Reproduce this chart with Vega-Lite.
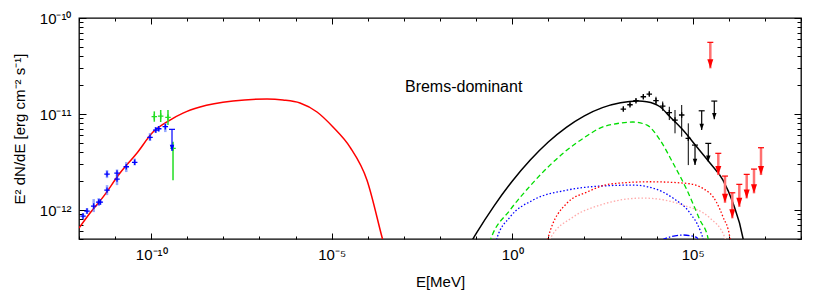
{
  "$schema": "https://vega.github.io/schema/vega-lite/v6.json",
  "width": 722,
  "height": 221,
  "autosize": {"type": "none"},
  "padding": {"left": 79, "top": 18, "right": 29, "bottom": 52},
  "background": "white",
  "config": {
    "view": {"stroke": "black", "strokeWidth": 1.3},
    "axis": {"labelFont": "Liberation Sans", "titleFont": "Liberation Sans", "labelColor": "black", "titleColor": "black", "titleFontWeight": "normal", "grid": false, "domain": false, "tickColor": "black", "tickWidth": 1, "labelFlush": false, "labelOverlap": false}
  },
  "resolve": {"axis": {"x": "independent", "y": "independent"}},
  "datasets": {
    "curves": [
      {"c": "synch", "E": 1e-12, "F": 6.49e-13},
      {"c": "synch", "E": 2.02e-12, "F": 9.31e-13},
      {"c": "synch", "E": 4.62e-12, "F": 1.365e-12},
      {"c": "synch", "E": 1.368e-11, "F": 2.43e-12},
      {"c": "synch", "E": 4.05e-11, "F": 3.93e-12},
      {"c": "synch", "E": 1.122e-10, "F": 6.49e-12},
      {"c": "synch", "E": 3.32e-10, "F": 8.66e-12},
      {"c": "synch", "E": 7.6e-10, "F": 1.023e-11},
      {"c": "synch", "E": 2.25e-9, "F": 1.183e-11},
      {"c": "synch", "E": 1.845e-8, "F": 1.365e-11},
      {"c": "synch", "E": 1.614e-7, "F": 1.432e-11},
      {"c": "synch", "E": 4.48e-7, "F": 1.40e-11},
      {"c": "synch", "E": 1.324e-6, "F": 1.303e-11},
      {"c": "synch", "E": 3.92e-6, "F": 1.05e-11},
      {"c": "synch", "E": 1.086e-5, "F": 7.33e-12},
      {"c": "synch", "E": 3.21e-5, "F": 4.53e-12},
      {"c": "synch", "E": 9.51e-5, "F": 2.05e-12},
      {"c": "synch", "E": 2.47e-4, "F": 5.24e-13},
      {"c": "synch", "E": 3.63e-4, "F": 3.02e-13},
      {"c": "total", "E": 0.0501, "F": 3.66e-13},
      {"c": "total", "E": 0.1, "F": 5.68e-13},
      {"c": "total", "E": 0.316, "F": 1.107e-12},
      {"c": "total", "E": 1, "F": 1.995e-12},
      {"c": "total", "E": 3.162, "F": 3.32e-12},
      {"c": "total", "E": 10, "F": 5.12e-12},
      {"c": "total", "E": 31.62, "F": 7.28e-12},
      {"c": "total", "E": 100, "F": 9.59e-12},
      {"c": "total", "E": 316.2, "F": 1.167e-11},
      {"c": "total", "E": 1000, "F": 1.312e-11},
      {"c": "total", "E": 3162, "F": 1.365e-11},
      {"c": "total", "E": 5321, "F": 1.343e-11},
      {"c": "total", "E": 12420, "F": 1.191e-11},
      {"c": "total", "E": 23500, "F": 9.38e-12},
      {"c": "total", "E": 53830, "F": 6.81e-12},
      {"c": "total", "E": 129100, "F": 4.56e-12},
      {"c": "total", "E": 301000, "F": 3.09e-12},
      {"c": "total", "E": 690000, "F": 2.05e-12},
      {"c": "total", "E": 1306000, "F": 1.183e-12},
      {"c": "total", "E": 2470000, "F": 5.11e-13},
      {"c": "total", "E": 2810000, "F": 3.83e-13},
      {"c": "brems", "E": 0.2005, "F": 3.83e-13},
      {"c": "brems", "E": 0.2535, "F": 4.99e-13},
      {"c": "brems", "E": 0.869, "F": 1e-12},
      {"c": "brems", "E": 3.11, "F": 1.778e-12},
      {"c": "brems", "E": 11.14, "F": 2.94e-12},
      {"c": "brems", "E": 33.0, "F": 4.22e-12},
      {"c": "brems", "E": 104, "F": 5.75e-12},
      {"c": "brems", "E": 270, "F": 7.14e-12},
      {"c": "brems", "E": 968, "F": 8.05e-12},
      {"c": "brems", "E": 2218, "F": 8.26e-12},
      {"c": "brems", "E": 5420, "F": 7.67e-12},
      {"c": "brems", "E": 12420, "F": 5.36e-12},
      {"c": "brems", "E": 28440, "F": 3.09e-12},
      {"c": "brems", "E": 69500, "F": 1.614e-12},
      {"c": "brems", "E": 159200, "F": 7.87e-13},
      {"c": "brems", "E": 265500, "F": 5.11e-13},
      {"c": "brems", "E": 301000, "F": 3.83e-13},
      {"c": "ic", "E": 0.313, "F": 3.83e-13},
      {"c": "ic", "E": 0.372, "F": 4.99e-13},
      {"c": "ic", "E": 0.869, "F": 8.45e-13},
      {"c": "ic", "E": 3.77, "F": 1.27e-12},
      {"c": "ic", "E": 33.0, "F": 1.614e-12},
      {"c": "ic", "E": 270, "F": 1.778e-12},
      {"c": "ic", "E": 2218, "F": 1.82e-12},
      {"c": "ic", "E": 7943, "F": 1.694e-12},
      {"c": "ic", "E": 28440, "F": 1.334e-12},
      {"c": "ic", "E": 84140, "F": 9.31e-13},
      {"c": "ic", "E": 159200, "F": 6.19e-13},
      {"c": "ic", "E": 192800, "F": 4.99e-13},
      {"c": "ic", "E": 219000, "F": 3.83e-13},
      {"c": "pi0", "E": 8.63, "F": 3.83e-13},
      {"c": "pi0", "E": 9.82, "F": 5.11e-13},
      {"c": "pi0", "E": 33.0, "F": 1.183e-12},
      {"c": "pi0", "E": 118, "F": 1.54e-12},
      {"c": "pi0", "E": 512, "F": 1.866e-12},
      {"c": "pi0", "E": 6561, "F": 1.972e-12},
      {"c": "pi0", "E": 68230, "F": 1.897e-12},
      {"c": "pi0", "E": 301000, "F": 1.493e-12},
      {"c": "pi0", "E": 690000, "F": 8.51e-13},
      {"c": "pi0", "E": 1079000, "F": 5.11e-13},
      {"c": "pi0", "E": 1151000, "F": 3.83e-13},
      {"c": "pi0b", "E": 9.82, "F": 3.83e-13},
      {"c": "pi0b", "E": 11.14, "F": 4.99e-13},
      {"c": "pi0b", "E": 48.3, "F": 8.45e-13},
      {"c": "pi0b", "E": 270, "F": 1.127e-12},
      {"c": "pi0b", "E": 4198, "F": 1.334e-12},
      {"c": "pi0b", "E": 53830, "F": 1.127e-12},
      {"c": "pi0b", "E": 301000, "F": 8.26e-13},
      {"c": "pi0b", "E": 785000, "F": 5.11e-13},
      {"c": "pi0b", "E": 891000, "F": 3.83e-13},
      {"c": "dd", "E": 9036, "F": 3.83e-13},
      {"c": "dd", "E": 15350, "F": 4.95e-13},
      {"c": "dd", "E": 54950, "F": 5.5e-13},
      {"c": "dd", "E": 129100, "F": 5.2e-13},
      {"c": "dd", "E": 159200, "F": 3.83e-13}
    ],
    "pts": [
      {"g": "blue", "E": 1.291e-12, "F": 8.66e-13, "lo": 8.05e-13, "hi": 9.31e-13},
      {"g": "blue", "E": 1.667e-12, "F": 9.77e-13, "lo": 9.12e-13, "hi": 1.047e-12},
      {"g": "blue", "E": 2.553e-12, "F": 1.102e-12, "lo": 9.53e-13, "hi": 1.303e-12},
      {"g": "blue", "E": 3.516e-12, "F": 1.211e-12, "lo": 1.102e-12, "hi": 1.334e-12},
      {"g": "blue", "E": 3.89e-12, "F": 1.211e-12, "lo": 1.13e-12, "hi": 1.30e-12},
      {"g": "blue", "E": 5.97e-12, "F": 1.614e-12, "lo": 1.432e-12, "hi": 1.82e-12},
      {"g": "blue", "E": 5.97e-12, "F": 2.371e-12, "lo": 2.153e-12, "hi": 2.61e-12},
      {"g": "blue", "E": 1.13e-11, "F": 2.104e-12, "lo": 1.82e-12, "hi": 2.317e-12},
      {"g": "blue", "E": 1.13e-11, "F": 2.427e-12, "lo": 2.25e-12, "hi": 2.65e-12},
      {"g": "blue", "E": 2.04e-11, "F": 2.825e-12, "lo": 2.489e-12, "hi": 3.162e-12},
      {"g": "blue", "E": 3.49e-11, "F": 3.14e-12, "lo": 2.92e-12, "hi": 3.44e-12},
      {"g": "blue", "E": 9.27e-11, "F": 5.71e-12, "lo": 5.24e-12, "hi": 6.34e-12},
      {"g": "blue", "E": 1.334e-10, "F": 6.81e-12, "lo": 6.34e-12, "hi": 7.33e-12},
      {"g": "blue", "E": 1.614e-10, "F": 7.03e-12, "lo": 6.6e-12, "hi": 7.5e-12},
      {"g": "blue", "E": 2.46e-10, "F": 7.38e-12, "lo": 6.49e-12, "hi": 8.05e-12},
      {"g": "green", "E": 1.219e-10, "F": 9.38e-12, "lo": 8.32e-12, "hi": 1.066e-11},
      {"g": "green", "E": 1.832e-10, "F": 9.53e-12, "lo": 8.26e-12, "hi": 1.102e-11},
      {"g": "green", "E": 2.917e-10, "F": 9.25e-12, "lo": 7.67e-12, "hi": 1.102e-11},
      {"g": "green", "E": 4.02e-10, "F": 4.40e-12, "lo": 2.05e-12, "hi": 5.14e-12},
      {"g": "black", "E": 1197, "F": 1.127e-11, "lo": 1.08e-11, "hi": 1.18e-11},
      {"g": "black", "E": 1832, "F": 1.25e-11, "lo": 1.2e-11, "hi": 1.31e-11},
      {"g": "black", "E": 2685, "F": 1.377e-11, "lo": 1.32e-11, "hi": 1.44e-11},
      {"g": "black", "E": 4285, "F": 1.514e-11, "lo": 1.45e-11, "hi": 1.59e-11},
      {"g": "black", "E": 6281, "F": 1.614e-11, "lo": 1.54e-11, "hi": 1.70e-11},
      {"g": "black", "E": 9616, "F": 1.377e-11, "lo": 1.242e-11, "hi": 1.514e-11},
      {"g": "black", "E": 14760, "F": 1.211e-11, "lo": 1.08e-11, "hi": 1.35e-11},
      {"g": "black", "E": 22490, "F": 1.033e-11, "lo": 8.66e-12, "hi": 1.191e-11},
      {"g": "black", "E": 32360, "F": 8.66e-12, "lo": 6.30e-12, "hi": 1.102e-11},
      {"g": "black", "E": 49550, "F": 9.77e-12, "lo": 5.81e-12, "hi": 1.242e-11},
      {"g": "black", "E": 75510, "F": 5.58e-12, "lo": 2.94e-12, "hi": 8.0e-12}
    ],
    "uls": [
      {"g": "blue", "E": 3.77e-10, "top": 6.93e-12, "bot": 4.12e-12},
      {"g": "black", "E": 115900, "top": 4.75e-12, "bot": 2.94e-12},
      {"g": "black", "E": 177400, "top": 1.081e-11, "bot": 6.81e-12},
      {"g": "black", "E": 270400, "top": 4.95e-12, "bot": 3.18e-12},
      {"g": "black", "E": 396300, "top": 1.365e-11, "bot": 8.81e-12},
      {"g": "red", "E": 307600, "top": 5.58e-11, "bot": 2.99e-11},
      {"g": "red", "E": 512000, "top": 3.90e-12, "bot": 2.317e-12},
      {"g": "red", "E": 785000, "top": 2.26e-12, "bot": 1.191e-12},
      {"g": "red", "E": 1250000, "top": 1.514e-12, "bot": 8.20e-13},
      {"g": "red", "E": 1954000, "top": 1.854e-12, "bot": 1.081e-12},
      {"g": "red", "E": 3133000, "top": 2.355e-12, "bot": 1.324e-12},
      {"g": "red", "E": 4990000, "top": 2.673e-12, "bot": 1.493e-12},
      {"g": "red", "E": 7800000, "top": 4.46e-12, "bot": 2.317e-12}
    ],
    "notes": [
      {"label": "Brems-dominant", "E": 0.00107, "F": 1.91e-11}
    ]
  },
  "layer": [
    {
      "data": {"name": "curves"},
      "transform": [{"filter": "datum.c === 'synch'"}],
      "mark": {"type": "line", "color": "#ff0000", "strokeWidth": 1.5, "clip": true, "interpolate": "monotone"},
      "encoding": {
        "x": {"field": "E", "type": "quantitative", "scale": {"type": "log", "domain": [1e-12, 1e8], "nice": false},
          "axis": {"orient": "bottom", "values": [1e-10, 1e-5, 1, 100000], "ticks": false, "labelFontSize": 15, "labelPadding": 8,
            "labelExpr": "datum.value < 1e-7 ? '10⁻¹⁰' : datum.value < 1e-2 ? '10⁻⁵' : datum.value < 10 ? '10⁰' : '10⁵'",
            "title": "E[MeV]", "titleFontSize": 15, "titlePadding": 12}},
        "y": {"field": "F", "type": "quantitative", "scale": {"type": "log", "domain": [5e-13, 1e-10], "nice": false},
          "axis": {"orient": "left", "values": [1e-12, 1e-11, 1e-10], "ticks": false, "labelFontSize": 15, "labelPadding": 8,
            "labelExpr": "datum.value < 5e-12 ? '10⁻¹²' : datum.value < 5e-11 ? '10⁻¹¹' : '10⁻¹⁰'",
            "title": "E² dN/dE [erg cm⁻² s⁻¹]", "titleFontSize": 15, "titlePadding": 12}}
      }
    },
    {
      "data": {"name": "curves"},
      "transform": [{"filter": "datum.c === 'total'"}],
      "mark": {"type": "line", "color": "#000000", "strokeWidth": 1.5, "clip": true, "interpolate": "monotone"},
      "encoding": {
        "x": {"field": "E", "type": "quantitative", "scale": {"type": "log", "domain": [1e-12, 1e8], "nice": false},
          "axis": {"orient": "bottom", "values": [1e-10, 1e-5, 1, 100000], "labels": false, "tickSize": -6, "title": null}},
        "y": {"field": "F", "type": "quantitative", "scale": {"type": "log", "domain": [5e-13, 1e-10], "nice": false},
          "axis": {"orient": "left", "values": [1e-12, 1e-11, 1e-10], "labels": false, "tickSize": -7, "title": null}}
      }
    },
    {
      "data": {"name": "curves"},
      "transform": [{"filter": "datum.c === 'brems'"}],
      "mark": {"type": "line", "color": "#00dd00", "strokeWidth": 1.3, "strokeDash": [5, 3], "clip": true, "interpolate": "monotone"},
      "encoding": {
        "x": {"field": "E", "type": "quantitative", "scale": {"type": "log", "domain": [1e-12, 1e8], "nice": false},
          "axis": {"orient": "bottom", "values": [1e-12, 1e-11, 1e-10, 1e-9, 1e-8, 1e-7, 1e-6, 1e-5, 1e-4, 1e-3, 1e-2, 1e-1, 1, 10, 100, 1000, 10000, 100000, 1000000, 10000000, 100000000], "labels": false, "tickSize": -3, "title": null}},
        "y": {"field": "F", "type": "quantitative", "scale": {"type": "log", "domain": [5e-13, 1e-10], "nice": false},
          "axis": {"orient": "left", "values": [5e-13, 6e-13, 7e-13, 8e-13, 9e-13, 2e-12, 3e-12, 4e-12, 5e-12, 6e-12, 7e-12, 8e-12, 9e-12, 2e-11, 3e-11, 4e-11, 5e-11, 6e-11, 7e-11, 8e-11, 9e-11], "labels": false, "tickSize": -4, "title": null}}
      }
    },
    {
      "data": {"name": "curves"},
      "transform": [{"filter": "datum.c === 'ic'"}],
      "mark": {"type": "line", "color": "#0000ff", "strokeWidth": 1.3, "strokeDash": [1.5, 2], "clip": true, "interpolate": "monotone"},
      "encoding": {
        "x": {"field": "E", "type": "quantitative", "scale": {"type": "log", "domain": [1e-12, 1e8], "nice": false},
          "axis": {"orient": "top", "values": [1e-10, 1e-5, 1, 100000], "labels": false, "tickSize": -6, "title": null}},
        "y": {"field": "F", "type": "quantitative", "scale": {"type": "log", "domain": [5e-13, 1e-10], "nice": false},
          "axis": {"orient": "right", "values": [1e-12, 1e-11, 1e-10], "labels": false, "tickSize": -7, "title": null}}
      }
    },
    {
      "data": {"name": "curves"},
      "transform": [{"filter": "datum.c === 'pi0'"}],
      "mark": {"type": "line", "color": "#ff0000", "strokeWidth": 1.3, "strokeDash": [1.5, 2], "clip": true, "interpolate": "monotone"},
      "encoding": {
        "x": {"field": "E", "type": "quantitative", "scale": {"type": "log", "domain": [1e-12, 1e8], "nice": false},
          "axis": {"orient": "top", "values": [1e-12, 1e-11, 1e-10, 1e-9, 1e-8, 1e-7, 1e-6, 1e-5, 1e-4, 1e-3, 1e-2, 1e-1, 1, 10, 100, 1000, 10000, 100000, 1000000, 10000000, 100000000], "labels": false, "tickSize": -3, "title": null}},
        "y": {"field": "F", "type": "quantitative", "scale": {"type": "log", "domain": [5e-13, 1e-10], "nice": false},
          "axis": {"orient": "right", "values": [5e-13, 6e-13, 7e-13, 8e-13, 9e-13, 2e-12, 3e-12, 4e-12, 5e-12, 6e-12, 7e-12, 8e-12, 9e-12, 2e-11, 3e-11, 4e-11, 5e-11, 6e-11, 7e-11, 8e-11, 9e-11], "labels": false, "tickSize": -4, "title": null}}
      }
    },
    {
      "data": {"name": "curves"},
      "transform": [{"filter": "datum.c === 'pi0b'"}],
      "mark": {"type": "line", "color": "#ffaaaa", "strokeWidth": 1.3, "strokeDash": [1.5, 2], "clip": true, "interpolate": "monotone"},
      "encoding": {
        "x": {"field": "E", "type": "quantitative", "scale": {"type": "log", "domain": [1e-12, 1e8], "nice": false}, "axis": null},
        "y": {"field": "F", "type": "quantitative", "scale": {"type": "log", "domain": [5e-13, 1e-10], "nice": false}, "axis": null}
      }
    },
    {
      "data": {"name": "curves"},
      "transform": [{"filter": "datum.c === 'dd'"}],
      "mark": {"type": "line", "color": "#0000ff", "strokeWidth": 1.3, "strokeDash": [6, 2, 1.5, 2], "clip": true, "interpolate": "monotone"},
      "encoding": {
        "x": {"field": "E", "type": "quantitative", "scale": {"type": "log", "domain": [1e-12, 1e8], "nice": false}, "axis": null},
        "y": {"field": "F", "type": "quantitative", "scale": {"type": "log", "domain": [5e-13, 1e-10], "nice": false}, "axis": null}
      }
    },
    {
      "data": {"name": "pts"},
      "transform": [{"filter": "datum.g === 'blue'"}],
      "mark": {"type": "rule", "color": "#4060ff", "strokeWidth": 2.5, "opacity": 0.55},
      "encoding": {
        "x": {"field": "E", "type": "quantitative", "scale": {"type": "log", "domain": [1e-12, 1e8], "nice": false}, "axis": null},
        "y": {"field": "lo", "type": "quantitative", "scale": {"type": "log", "domain": [5e-13, 1e-10], "nice": false}, "axis": null},
        "y2": {"field": "hi"}
      }
    },
    {
      "data": {"name": "pts"},
      "transform": [{"filter": "datum.g === 'green'"}],
      "mark": {"type": "rule", "color": "#22dd22", "strokeWidth": 1.5},
      "encoding": {
        "x": {"field": "E", "type": "quantitative", "scale": {"type": "log", "domain": [1e-12, 1e8], "nice": false}, "axis": null},
        "y": {"field": "lo", "type": "quantitative", "scale": {"type": "log", "domain": [5e-13, 1e-10], "nice": false}, "axis": null},
        "y2": {"field": "hi"}
      }
    },
    {
      "data": {"name": "pts"},
      "transform": [{"filter": "datum.g === 'black'"}],
      "mark": {"type": "rule", "color": "#000000", "strokeWidth": 1},
      "encoding": {
        "x": {"field": "E", "type": "quantitative", "scale": {"type": "log", "domain": [1e-12, 1e8], "nice": false}, "axis": null},
        "y": {"field": "lo", "type": "quantitative", "scale": {"type": "log", "domain": [5e-13, 1e-10], "nice": false}, "axis": null},
        "y2": {"field": "hi"}
      }
    },
    {
      "data": {"name": "pts"},
      "mark": {"type": "point", "shape": "M-1,0L1,0M0,-1L0,1", "size": 30, "filled": false, "strokeWidth": 1.3, "opacity": 1},
      "encoding": {
        "x": {"field": "E", "type": "quantitative", "scale": {"type": "log", "domain": [1e-12, 1e8], "nice": false}, "axis": null},
        "y": {"field": "F", "type": "quantitative", "scale": {"type": "log", "domain": [5e-13, 1e-10], "nice": false}, "axis": null},
        "color": {"field": "g", "type": "nominal", "legend": null, "scale": {"domain": ["blue", "green", "black", "red"], "range": ["#0000ff", "#22dd22", "#000000", "#ff0000"]}}
      }
    },
    {
      "data": {"name": "uls"},
      "transform": [{"filter": "datum.g === 'red'"}],
      "mark": {"type": "rule", "color": "#ff7070", "strokeWidth": 2.5},
      "encoding": {
        "x": {"field": "E", "type": "quantitative", "scale": {"type": "log", "domain": [1e-12, 1e8], "nice": false}, "axis": null},
        "y": {"field": "top", "type": "quantitative", "scale": {"type": "log", "domain": [5e-13, 1e-10], "nice": false}, "axis": null},
        "y2": {"field": "bot"}
      }
    },
    {
      "data": {"name": "uls"},
      "transform": [{"filter": "datum.g !== 'red'"}],
      "mark": {"type": "rule", "strokeWidth": 1.2},
      "encoding": {
        "x": {"field": "E", "type": "quantitative", "scale": {"type": "log", "domain": [1e-12, 1e8], "nice": false}, "axis": null},
        "y": {"field": "top", "type": "quantitative", "scale": {"type": "log", "domain": [5e-13, 1e-10], "nice": false}, "axis": null},
        "y2": {"field": "bot"},
        "color": {"field": "g", "type": "nominal", "legend": null, "scale": {"domain": ["blue", "green", "black", "red"], "range": ["#0000ff", "#22dd22", "#000000", "#ff0000"]}}
      }
    },
    {
      "data": {"name": "uls"},
      "mark": {"type": "point", "shape": "M-1,0L1,0", "size": 36, "filled": false, "strokeWidth": 1.2, "opacity": 1},
      "encoding": {
        "x": {"field": "E", "type": "quantitative", "scale": {"type": "log", "domain": [1e-12, 1e8], "nice": false}, "axis": null},
        "y": {"field": "top", "type": "quantitative", "scale": {"type": "log", "domain": [5e-13, 1e-10], "nice": false}, "axis": null},
        "color": {"field": "g", "type": "nominal", "legend": null, "scale": {"domain": ["blue", "green", "black", "red"], "range": ["#0000ff", "#22dd22", "#000000", "#ff0000"]}}
      }
    },
    {
      "data": {"name": "uls"},
      "transform": [{"filter": "datum.g === 'red'"}],
      "mark": {"type": "point", "shape": "M-1,-3L1,-3L0,0Z", "size": 36, "filled": true, "color": "#ff0000", "opacity": 1},
      "encoding": {
        "x": {"field": "E", "type": "quantitative", "scale": {"type": "log", "domain": [1e-12, 1e8], "nice": false}, "axis": null},
        "y": {"field": "bot", "type": "quantitative", "scale": {"type": "log", "domain": [5e-13, 1e-10], "nice": false}, "axis": null}
      }
    },
    {
      "data": {"name": "uls"},
      "transform": [{"filter": "datum.g !== 'red'"}],
      "mark": {"type": "point", "shape": "M-1,-2.8L1,-2.8L0,0Z", "size": 20, "filled": true, "opacity": 1},
      "encoding": {
        "x": {"field": "E", "type": "quantitative", "scale": {"type": "log", "domain": [1e-12, 1e8], "nice": false}, "axis": null},
        "y": {"field": "bot", "type": "quantitative", "scale": {"type": "log", "domain": [5e-13, 1e-10], "nice": false}, "axis": null},
        "color": {"field": "g", "type": "nominal", "legend": null, "scale": {"domain": ["blue", "green", "black", "red"], "range": ["#0000ff", "#22dd22", "#000000", "#ff0000"]}}
      }
    },
    {
      "data": {"name": "notes"},
      "mark": {"type": "text", "align": "left", "baseline": "middle", "font": "Liberation Sans", "fontSize": 16, "color": "black"},
      "encoding": {
        "text": {"field": "label"},
        "x": {"field": "E", "type": "quantitative", "scale": {"type": "log", "domain": [1e-12, 1e8], "nice": false}, "axis": null},
        "y": {"field": "F", "type": "quantitative", "scale": {"type": "log", "domain": [5e-13, 1e-10], "nice": false}, "axis": null}
      }
    }
  ]
}
